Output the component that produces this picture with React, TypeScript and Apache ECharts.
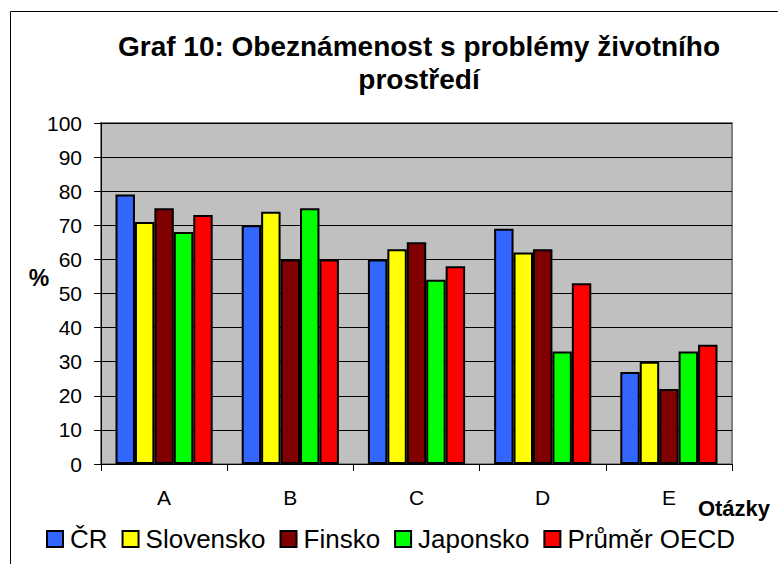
import React, { useEffect, useRef } from "react";
import * as echarts from "echarts";

const categories = ["A", "B", "C", "D", "E"];
const seriesNames = ["ČR", "Slovensko", "Finsko", "Japonsko", "Průměr OECD"];
const crValues = [79, 70, 60, 69, 27];
const skValues = [71, 74, 63, 62, 30];
const fiValues = [75, 60, 65, 63, 22];
const jpValues = [68, 75, 54, 33, 33];
const oecdValues = [73, 60, 58, 53, 35];
const seriesColors = ["#3366FF", "#FFFF00", "#800000", "#00FF00", "#FF0000"];
const yTicks = { min: 0, max: 100, interval: 10 };

const FONT = "'Liberation Sans', Arial, sans-serif";

export default function App() {
  const ref = useRef<HTMLDivElement>(null);
  useEffect(() => {
    if (!ref.current) return;
    const chart = echarts.init(ref.current, undefined, { renderer: "svg" });
    const data = [crValues, skValues, fiValues, jpValues, oecdValues];
    chart.setOption({
      animation: false,
      backgroundColor: "#FFFFFF",
      textStyle: { fontFamily: FONT },
      graphic: [
        {
          type: "rect",
          shape: { x: 10.5, y: 11.5, width: 820, height: 620 },
          style: { fill: "none", stroke: "#000", lineWidth: 1 },
          silent: true,
        },
        {
          type: "text",
          x: 419,
          y: 46,
          style: {
            text: "Graf 10: Obeznámenost s problémy životního",
            fontFamily: FONT,
            fontWeight: "bold",
            fontSize: 28,
            fill: "#000",
            textAlign: "center",
            textVerticalAlign: "middle",
          },
        },
        {
          type: "text",
          x: 419,
          y: 79,
          style: {
            text: "prostředí",
            fontFamily: FONT,
            fontWeight: "bold",
            fontSize: 28,
            fill: "#000",
            textAlign: "center",
            textVerticalAlign: "middle",
          },
        },
        {
          type: "text",
          x: 39,
          y: 278,
          style: {
            text: "%",
            fontFamily: FONT,
            fontWeight: "bold",
            fontSize: 23,
            fill: "#000",
            textAlign: "center",
            textVerticalAlign: "middle",
          },
        },
        {
          type: "text",
          x: 734,
          y: 508,
          style: {
            text: "Otázky",
            fontFamily: FONT,
            fontWeight: "bold",
            fontSize: 22,
            fill: "#000",
            textAlign: "center",
            textVerticalAlign: "middle",
          },
        },
      ],
      legend: {
        data: seriesNames,
        left: 41,
        top: 521,
        itemWidth: 16,
        itemHeight: 16,
        itemGap: 14,
        icon: "rect",
        textStyle: {
          fontFamily: FONT,
          fontSize: 26,
          color: "#000",
          padding: [0, 0, 0, 2],
        },
      },
      grid: {
        left: 101,
        right: 46,
        top: 123,
        bottom: 100,
        show: true,
        backgroundColor: "#C0C0C0",
        borderColor: "#808080",
        borderWidth: 2,
      },
      xAxis: {
        type: "category",
        data: categories,
        axisLine: { lineStyle: { color: "#000", width: 1 } },
        axisTick: { show: true, length: 7, lineStyle: { color: "#000" } },
        axisLabel: {
          fontFamily: FONT,
          fontSize: 21,
          color: "#000",
          margin: 23,
        },
      },
      yAxis: {
        type: "value",
        min: yTicks.min,
        max: yTicks.max,
        interval: yTicks.interval,
        axisLine: { show: true, lineStyle: { color: "#000", width: 1 } },
        axisTick: { show: true, length: 7, lineStyle: { color: "#000" } },
        axisLabel: {
          fontFamily: FONT,
          fontSize: 21,
          color: "#000",
          margin: 19,
        },
        splitLine: { show: true, lineStyle: { color: "#000", width: 1 } },
      },
      series: seriesNames.map((name, i) => ({
        name,
        type: "bar",
        data: data[i],
        barGap: "0%",
        barCategoryGap: "23%",
        itemStyle: {
          color: seriesColors[i],
          borderColor: "#000",
          borderWidth: 2,
        },
      })),
    });
    return () => chart.dispose();
  }, []);
  return (
    <div
      ref={ref}
      style={{ position: "fixed", left: 0, top: 0, width: 778, height: 564 }}
    />
  );
}
